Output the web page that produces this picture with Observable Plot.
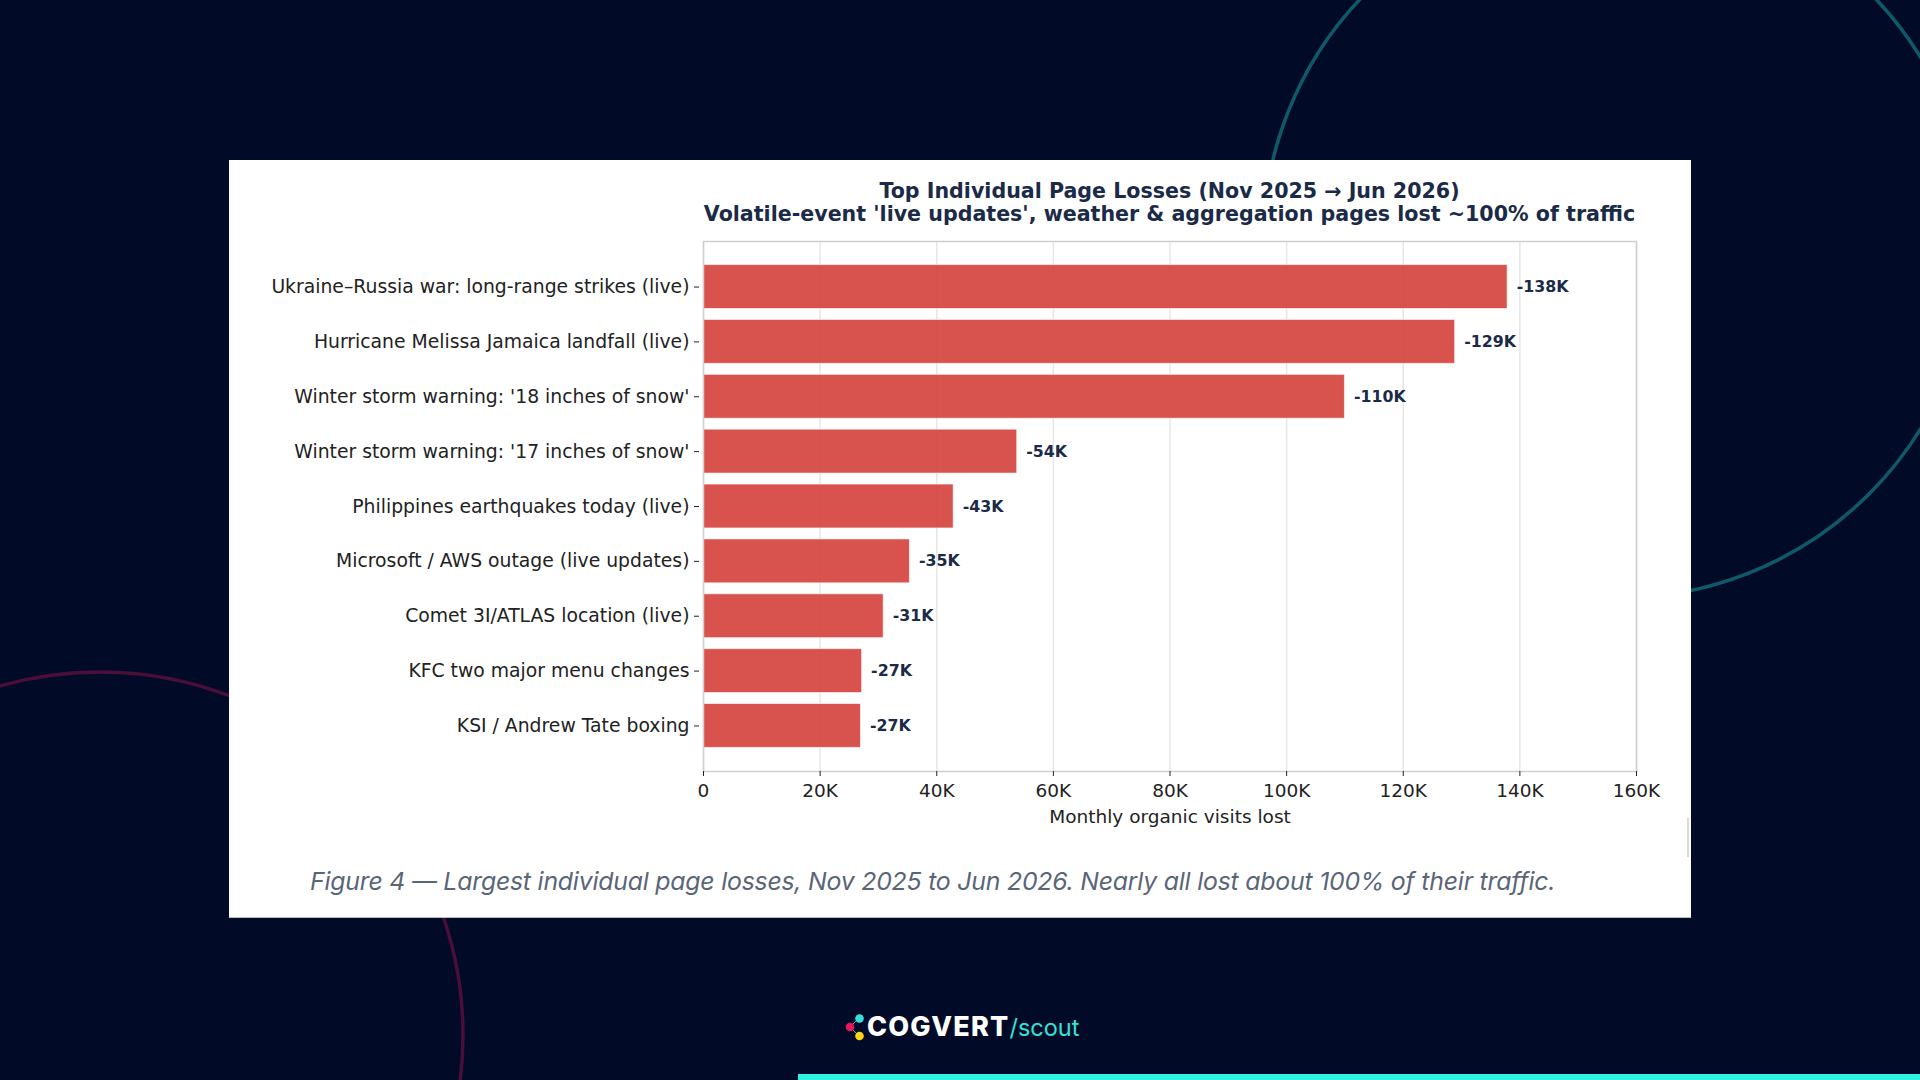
<!DOCTYPE html>
<html>
<head>
<meta charset="utf-8">
<script src="https://cdn.jsdelivr.net/npm/d3@7"></script>
<script src="https://cdn.jsdelivr.net/npm/@observablehq/plot@0.6"></script>
<style>
  html, body { margin: 0; padding: 0; }
  body { width: 1920px; height: 1080px; background: #010b27; position: relative; overflow: hidden; font-family: "DejaVu Sans", sans-serif; }
  #deco { position: absolute; left: 0; top: 0; }
  #card { position: absolute; left: 229px; top: 160px; width: 1462px; height: 758px; background: #ffffff; border-bottom: 1px solid #b8bfca; box-sizing: border-box; }
  #title { position: absolute; left: 669.5px; top: 179.5px; width: 1000px; text-align: center; font-family: "DejaVu Sans"; font-weight: bold; font-size: 20.6px; line-height: 23.3px; color: #1b2a47; white-space: nowrap; }
  #title div { width: 100%; }
  #chart { position: absolute; left: 229px; top: 221px; }
  #caption { position: absolute; left: 310px; top: 866px; font-family: "Inter", "Noto Sans", sans-serif; font-style: italic; font-size: 24.8px; line-height: 30px; color: #5a6578; white-space: nowrap; letter-spacing: -0.2px; }
  #scroll { position: absolute; left: 1687px; top: 818px; width: 2px; height: 39px; background: #d9d9d9; }
  #logo { position: absolute; left: 867px; top: 1012px; white-space: nowrap; line-height: 30px; }
  #logo .brand { font-family: "Inter", sans-serif; font-weight: 800; font-size: 27px; color: #ffffff; letter-spacing: 1.2px; }
  #logo .slash { font-family: "Inter", sans-serif; font-weight: 400; font-size: 23.5px; color: #33e3d8; }
  #bar { position: absolute; left: 798px; top: 1074px; width: 1122px; height: 6px; background: #2ff2e1; }
</style>
</head>
<body>
<svg id="deco" width="1920" height="1080">
  <circle cx="1618" cy="243" r="355" fill="none" stroke="#0f5a6a" stroke-width="3.5"/>
  <circle cx="100" cy="1035" r="363" fill="none" stroke="#4a0e3b" stroke-width="3.5"/>
  <line x1="850" y1="1027" x2="859" y2="1018" stroke="#8a8fa8" stroke-width="1"/>
  <line x1="850" y1="1027" x2="859" y2="1036" stroke="#8a8fa8" stroke-width="1"/>
  <circle cx="859.5" cy="1018.5" r="4.3" fill="#36e0d8"/>
  <circle cx="850" cy="1027" r="4.3" fill="#e8175d"/>
  <circle cx="859.5" cy="1036" r="4.3" fill="#fbd317"/>
</svg>
<div id="card"></div>
<div id="scroll"></div>
<div id="title">
  <div>Top Individual Page Losses (Nov 2025 → Jun 2026)</div>
  <div>Volatile-event 'live updates', weather &amp; aggregation pages lost ~100% of traffic</div>
</div>
<div id="chart"></div>
<div id="caption">Figure 4 — Largest individual page losses, Nov 2025 to Jun 2026. Nearly all lost about 100% of their traffic.</div>
<div id="logo"><span class="brand">COGVERT</span><span class="slash">/scout</span></div>
<div id="bar"></div>
<script>
const pages = [
  "Ukraine–Russia war: long-range strikes (live)",
  "Hurricane Melissa Jamaica landfall (live)",
  "Winter storm warning: '18 inches of snow'",
  "Winter storm warning: '17 inches of snow'",
  "Philippines earthquakes today (live)",
  "Microsoft / AWS outage (live updates)",
  "Comet 3I/ATLAS location (live)",
  "KFC two major menu changes",
  "KSI / Andrew Tate boxing"
];
const visitsLost = [137900, 128900, 110000, 53800, 42900, 35400, 30900, 27200, 27000];
const valueLabels = ["-138K", "-129K", "-110K", "-54K", "-43K", "-35K", "-31K", "-27K", "-27K"];
const xTicks = [0, 20000, 40000, 60000, 80000, 100000, 120000, 140000, 160000];
const xTickLabels = ["0", "20K", "40K", "60K", "80K", "100K", "120K", "140K", "160K"];
const xLabel = "Monthly organic visits lost";

const data = pages.map((p, i) => ({page: p, v: visitsLost[i], label: valueLabels[i]}));
const tickFmt = d => xTickLabels[xTicks.indexOf(d)];

const chart = Plot.plot({
  width: 1462,
  height: 610,
  marginLeft: 474,
  marginRight: 55,
  marginTop: 20,
  marginBottom: 60,
  style: {fontFamily: "DejaVu Sans", background: "transparent", overflow: "visible"},
  x: {domain: [0, 160000]},
  y: {domain: pages, paddingInner: 0.2, paddingOuter: 0.43, align: 0.5, round: false},
  marks: [
    Plot.gridX(xTicks, {stroke: "#e6e6e6", strokeOpacity: 1, strokeWidth: 1.5}),
    Plot.barX(data, {x: "v", y: "page", fill: "#d5433f", fillOpacity: 0.92, stroke: "#ffffff", strokeOpacity: 0.6, strokeWidth: 1}),
    Plot.frame({stroke: "#cfcfcf", strokeWidth: 1.5}),
    Plot.text(data, {x: "v", y: "page", text: "label", dx: 9, textAnchor: "start", fontWeight: "bold", fontSize: 15.8, fill: "#1b2a47"}),
    Plot.axisX(xTicks, {tickSize: 5, tickPadding: 7.5, tickFormat: tickFmt, fontSize: 18.5, color: "#222222", label: null}),
    Plot.axisY({tickSize: 5, tickPadding: 5, dx: -4, fontSize: 18.8, color: "#222222", label: null}),
    Plot.text([xLabel], {frameAnchor: "bottom", dy: 51, fontSize: 18.5, fill: "#222222"})
  ]
});
document.getElementById("chart").appendChild(chart);
</script>
</body>
</html>
